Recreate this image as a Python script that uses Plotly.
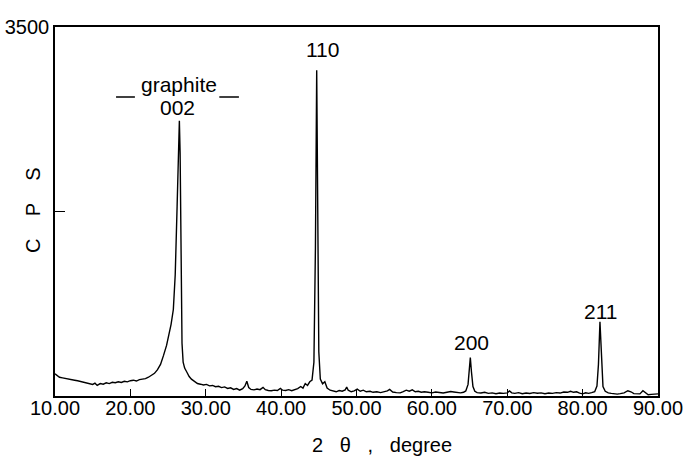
import plotly.graph_objects as go

two_theta = [
    10.0, 10.3, 10.6, 11.0, 11.4, 11.8, 12.2, 12.6, 13.0, 13.4, 13.8, 14.2, 14.6, 15.0, 15.3, 15.6,
    16.0, 16.4, 16.8, 17.2, 17.6, 18.0, 18.4, 18.8, 19.2, 19.6, 20.0, 20.4, 20.8, 21.2, 21.6, 22.0,
    22.4, 22.8, 23.2, 23.6, 24.0, 24.4, 24.8, 25.1, 25.4, 25.7, 25.95, 26.2, 26.4, 26.5, 26.6, 26.75,
    26.85, 27.0, 27.2, 27.5, 27.8, 28.1, 28.5, 28.9, 29.3, 29.7, 30.1, 30.5, 30.9, 31.3, 31.7, 32.1,
    32.5, 32.9, 33.3, 33.7, 34.1, 34.5, 34.9, 35.2, 35.45, 35.7, 36.0, 36.4, 36.8, 37.2, 37.6, 37.9,
    38.3, 38.7, 39.1, 39.5, 39.9, 40.2, 40.6, 41.0, 41.4, 41.8, 42.2, 42.6, 42.9, 43.2, 43.5, 43.8,
    44.1, 44.35, 44.55, 44.72, 44.88, 45.0, 45.2, 45.5, 45.8, 46.1, 46.5, 46.9, 47.3, 47.7, 48.1, 48.5,
    48.7, 48.9, 49.3, 49.7, 50.1, 50.5, 50.9, 51.3, 51.8, 52.2, 52.7, 53.2, 53.7, 54.1, 54.4, 54.8,
    55.3, 55.8, 56.2, 56.6, 57.0, 57.4, 57.8, 58.2, 58.6, 59.0, 59.5, 60.0, 60.5, 61.0, 61.5, 62.0,
    62.5, 62.9, 63.3, 63.8, 64.2, 64.5, 64.8, 65.0, 65.1, 65.25, 65.45, 65.7, 66.0, 66.5, 67.0, 67.5,
    68.0, 68.5, 69.0, 69.5, 70.0, 70.3, 70.6, 71.0, 71.5, 72.0, 72.5, 73.0, 73.5, 74.0, 74.5, 75.0,
    75.5, 76.0, 76.5, 77.0, 77.5, 78.0, 78.4, 78.8, 79.2, 79.6, 80.0, 80.4, 80.8, 81.2, 81.6, 81.9,
    82.1, 82.3, 82.5, 82.7, 83.0, 83.4, 83.8, 84.2, 84.6, 85.0, 85.5, 86.0, 86.4, 86.8, 87.2, 87.6,
    88.0, 88.3, 88.7, 89.1, 89.5, 90.0,
]

cps = [
    210, 190, 178, 172, 165, 160, 158, 150, 145, 138, 130, 128, 118, 110, 122, 100,
    118, 112, 125, 118, 130, 126, 135, 128, 140, 134, 145, 150, 142, 155, 160, 165,
    178, 195, 215, 250, 300, 385, 480, 580, 680, 820, 1150, 1800, 2450, 2610, 2300, 1200,
    500, 320, 265, 225, 185, 160, 135, 118, 112, 104, 110, 96, 100, 88, 92, 80,
    86, 72, 78, 62, 70, 55, 70, 95, 140, 80, 62, 58, 66, 60, 82, 60,
    52, 50, 56, 52, 72, 55, 52, 60, 50, 62, 70, 90, 75, 118, 100, 135,
    150, 320, 1400, 3090, 1300, 420, 160, 115, 135, 75, 55, 48, 40, 52, 45, 58,
    85, 55, 40, 48, 65, 45, 55, 40, 45, 35, 40, 32, 38, 48, 62, 38,
    32, 30, 42, 55, 45, 58, 40, 45, 36, 40, 35, 30, 38, 32, 28, 36,
    42, 38, 32, 30, 35, 48, 110, 250, 365, 230, 90, 45, 32, 28, 35, 25,
    30, 22, 28, 25, 30, 48, 30, 25, 32, 22, 28, 24, 32, 26, 30, 22,
    28, 25, 32, 28, 38, 35, 45, 35, 40, 28, 20, 30, 25, 32, 40, 95,
    300, 705, 300, 90, 45, 30, 25, 20, 18, 22, 30, 50, 40, 22, 18, 20,
    50, 30, 12, 15, 20, 20,
]

x_ticks = [10, 20, 30, 40, 50, 60, 70, 80, 90]
y_ticks = [1750, 3500]
y_tick_text = ["", "3500"]

peak_labels = ["110", "graphite", "002", "200", "211"]
peak_label_x = [45.5, 26.4, 26.2, 65.2, 82.4]
peak_label_y = [3282, 2950, 2740, 503, 806]

FONT = "Liberation Sans, Arial, sans-serif"

fig = go.Figure()
fig.add_trace(go.Scatter(
    x=two_theta, y=cps, mode="lines",
    line=dict(color="black", width=1.4),
    showlegend=False, hoverinfo="skip",
))

for t, xx, yy in zip(peak_labels, peak_label_x, peak_label_y):
    fig.add_annotation(x=xx, y=yy, text=t, showarrow=False,
                       xanchor="center", yanchor="middle",
                       font=dict(size=21, color="black", family=FONT))

# dashes around "graphite"
for x0, x1 in [(18.1, 20.6), (31.8, 34.4)]:
    fig.add_shape(type="line", xref="x", yref="y", x0=x0, x1=x1, y0=2836, y1=2836,
                  line=dict(color="black", width=1.5))

fig.add_annotation(xref="paper", yref="paper", x=0.542, y=-0.133,
                   text="2\u00a0\u00a0\u00a0θ\u00a0\u00a0\u00a0,\u00a0\u00a0\u00a0degree",
                   showarrow=False, xanchor="center", yanchor="middle",
                   font=dict(size=20, color="black", family=FONT))
fig.add_annotation(xref="paper", yref="paper", x=-0.0365, y=0.504,
                   text="C\u00a0\u00a0\u00a0\u00a0P\u00a0\u00a0\u00a0\u00a0S",
                   showarrow=False, xanchor="center", yanchor="middle", textangle=-90,
                   font=dict(size=20, color="black", family=FONT))

fig.update_xaxes(range=[10, 90], tickvals=x_ticks, tickformat=".2f",
                 ticks="inside", ticklen=7, tickcolor="black", tickwidth=1,
                 showline=True, linecolor="black", linewidth=1.5, mirror=True,
                 showgrid=False, zeroline=False, automargin=False,
                 ticklabelstandoff=-7,
                 tickfont=dict(size=20, color="black", family=FONT))
fig.update_yaxes(range=[0, 3500], tickvals=y_ticks, ticktext=y_tick_text,
                 ticks="inside", ticklen=10, tickcolor="black", tickwidth=1,
                 showline=True, linecolor="black", linewidth=1.5, mirror=True,
                 showgrid=False, zeroline=False, automargin=False,
                 tickfont=dict(size=20, color="black", family=FONT))

fig.update_layout(width=684, height=461, margin=dict(l=55, r=26, t=27, b=65),
                  paper_bgcolor="white", plot_bgcolor="white",
                  font=dict(family=FONT, color="black"))

fig.write_html("out.html")
